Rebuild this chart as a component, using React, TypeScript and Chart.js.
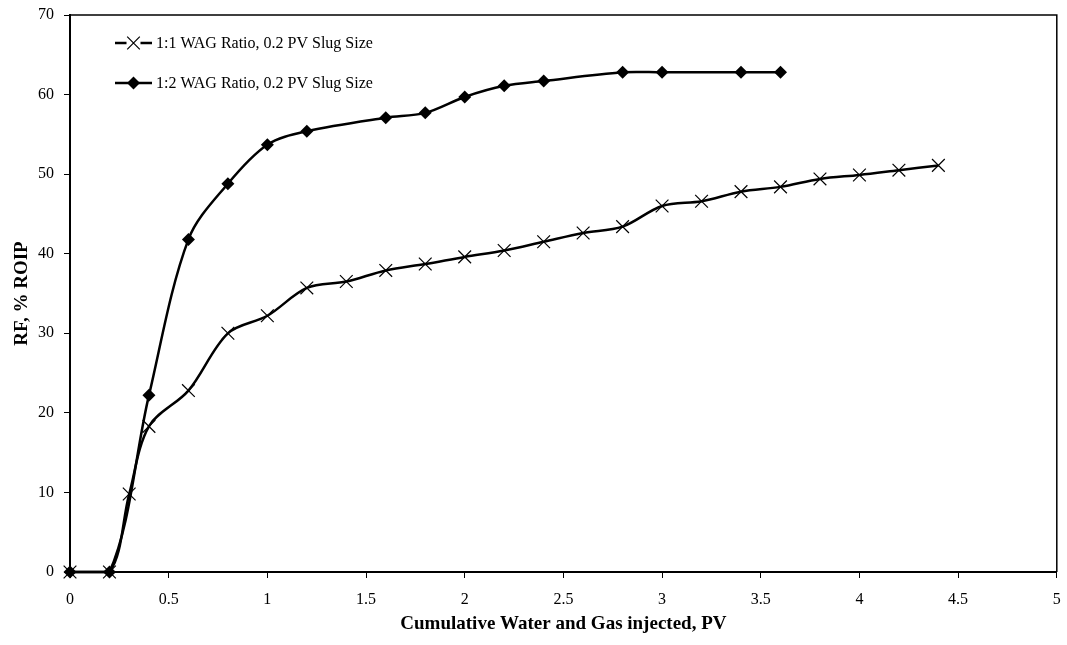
import React, { useEffect, useRef } from "react";
import { Chart, registerables } from "chart.js";

Chart.register(...registerables);

const xTitle = "Cumulative Water and Gas injected, PV";
const yTitle = "RF, % ROIP";

const series1Label = "1:1 WAG Ratio, 0.2 PV Slug Size";
const series1X = [0, 0.2, 0.3, 0.4, 0.6, 0.8, 1.0, 1.2, 1.4, 1.6, 1.8, 2.0, 2.2, 2.4, 2.6, 2.8, 3.0, 3.2, 3.4, 3.6, 3.8, 4.0, 4.2, 4.4];
const series1Y = [0, 0, 9.8, 18.3, 22.8, 30.0, 32.2, 35.7, 36.5, 37.9, 38.7, 39.6, 40.4, 41.5, 42.6, 43.4, 46.0, 46.6, 47.8, 48.4, 49.4, 49.9, 50.5, 51.1];

const series2Label = "1:2 WAG Ratio, 0.2 PV Slug Size";
const series2X = [0, 0.2, 0.4, 0.6, 0.8, 1.0, 1.2, 1.6, 1.8, 2.0, 2.2, 2.4, 2.8, 3.0, 3.4, 3.6];
const series2Y = [0, 0, 22.2, 41.8, 48.8, 53.7, 55.4, 57.1, 57.7, 59.7, 61.1, 61.7, 62.8, 62.8, 62.8, 62.8];

const xMin = 0;
const xMax = 5;
const xStep = 0.5;
const yMin = 0;
const yMax = 70;
const yStep = 10;

const FONT = "'Liberation Serif', 'Times New Roman', serif";

function toPoints(xs: number[], ys: number[]) {
  return xs.map((x, i) => ({ x, y: ys[i] }));
}

const framePlugin = {
  id: "frame",
  beforeDatasetsDraw(chart: any) {
    const { ctx, chartArea } = chart;
    ctx.save();
    ctx.strokeStyle = "#000";
    ctx.lineWidth = 1.5;
    ctx.beginPath();
    ctx.moveTo(chartArea.left, chartArea.top);
    ctx.lineTo(chartArea.right, chartArea.top);
    ctx.lineTo(chartArea.right, chartArea.bottom);
    ctx.stroke();
    ctx.restore();
  },
};

const legendPlugin = {
  id: "customLegend",
  afterDraw(chart: any) {
    const { ctx } = chart;
    const rows = chart.data.datasets;
    const lineX0 = 115;
    const lineX1 = 152;
    const textX = 156;
    const rowY = [43, 83];
    ctx.save();
    rows.forEach((ds: any, i: number) => {
      const y = rowY[i];
      const mx = (lineX0 + lineX1) / 2;
      ctx.strokeStyle = "#000";
      ctx.lineWidth = 2.5;
      if (ds.pointStyle === "crossRot") {
        ctx.beginPath();
        ctx.moveTo(lineX0, y);
        ctx.lineTo(mx - 7, y);
        ctx.moveTo(mx + 7, y);
        ctx.lineTo(lineX1, y);
        ctx.stroke();
        ctx.lineWidth = 1.2;
        const o = 6.3;
        ctx.beginPath();
        ctx.moveTo(mx - o, y - o);
        ctx.lineTo(mx + o, y + o);
        ctx.moveTo(mx - o, y + o);
        ctx.lineTo(mx + o, y - o);
        ctx.stroke();
      } else {
        ctx.beginPath();
        ctx.moveTo(lineX0, y);
        ctx.lineTo(lineX1, y);
        ctx.stroke();
        const r = 6.5;
        ctx.fillStyle = "#000";
        ctx.beginPath();
        ctx.moveTo(mx, y - r);
        ctx.lineTo(mx + r, y);
        ctx.lineTo(mx, y + r);
        ctx.lineTo(mx - r, y);
        ctx.closePath();
        ctx.fill();
      }
      ctx.fillStyle = "#000";
      ctx.font = `16px ${FONT}`;
      ctx.textAlign = "left";
      ctx.textBaseline = "middle";
      ctx.fillText(ds.label, textX, y + 1);
    });
    ctx.restore();
  },
};

export default function App() {
  const canvasRef = useRef<HTMLCanvasElement | null>(null);

  useEffect(() => {
    if (!canvasRef.current) return;
    const chart = new Chart(canvasRef.current, {
      type: "line",
      data: {
        datasets: [
          {
            label: series1Label,
            data: toPoints(series1X, series1Y),
            borderColor: "#000",
            borderWidth: 2.5,
            backgroundColor: "#000",
            pointStyle: "crossRot",
            pointRadius: 9,
            pointBorderWidth: 1.2,
            pointBorderColor: "#000",
            pointBackgroundColor: "#000",
            tension: 0.33,
            fill: false,
            clip: false,
          } as any,
          {
            label: series2Label,
            data: toPoints(series2X, series2Y),
            borderColor: "#000",
            borderWidth: 2.5,
            backgroundColor: "#000",
            pointStyle: "rectRot",
            pointRadius: 6.5,
            pointBorderWidth: 0,
            pointBackgroundColor: "#000",
            tension: 0.33,
            fill: false,
            clip: false,
          } as any,
        ],
      },
      options: {
        animation: false,
        responsive: true,
        maintainAspectRatio: false,
        layout: { padding: { top: 15, right: 10, left: 0, bottom: 0 } },
        plugins: {
          legend: { display: false },
          tooltip: { enabled: false },
        },
        scales: {
          x: {
            type: "linear",
            min: xMin,
            max: xMax,
            afterFit(scale: any) {
              scale.height = 73;
              scale.paddingLeft = 0;
              scale.paddingRight = 0;
            },
            ticks: {
              stepSize: xStep,
              color: "#000",
              font: { family: FONT, size: 16 },
              padding: 12,
              maxRotation: 0,
              autoSkip: false,
              callback: (v: any) => String(Number(v)),
            },
            grid: {
              drawOnChartArea: false,
              drawTicks: true,
              tickLength: 6,
              color: "#000",
              lineWidth: 1,
            },
            border: { display: true, color: "#000", width: 2 },
            title: {
              display: true,
              text: xTitle,
              color: "#000",
              font: { family: FONT, size: 19, weight: "bold" },
              padding: { top: 0, bottom: 10 },
            },
          },
          y: {
            type: "linear",
            min: yMin,
            max: yMax,
            afterFit(scale: any) {
              scale.width = 70;
              scale.paddingTop = 0;
              scale.paddingBottom = 0;
            },
            ticks: {
              stepSize: yStep,
              color: "#000",
              font: { family: FONT, size: 16 },
              padding: 10,
            },
            grid: {
              drawOnChartArea: false,
              drawTicks: true,
              tickLength: 6,
              color: "#000",
              lineWidth: 1,
            },
            border: { display: true, color: "#000", width: 2 },
            title: {
              display: true,
              text: yTitle,
              color: "#000",
              font: { family: FONT, size: 19, weight: "bold" },
              padding: { top: 11, bottom: 0 },
            },
          },
        },
      } as any,
      plugins: [framePlugin, legendPlugin],
    });
    return () => chart.destroy();
  }, []);

  return (
    <div style={{ position: "fixed", left: 0, top: 0, width: 1067, height: 645, background: "#fff" }}>
      <canvas ref={canvasRef} />
    </div>
  );
}
